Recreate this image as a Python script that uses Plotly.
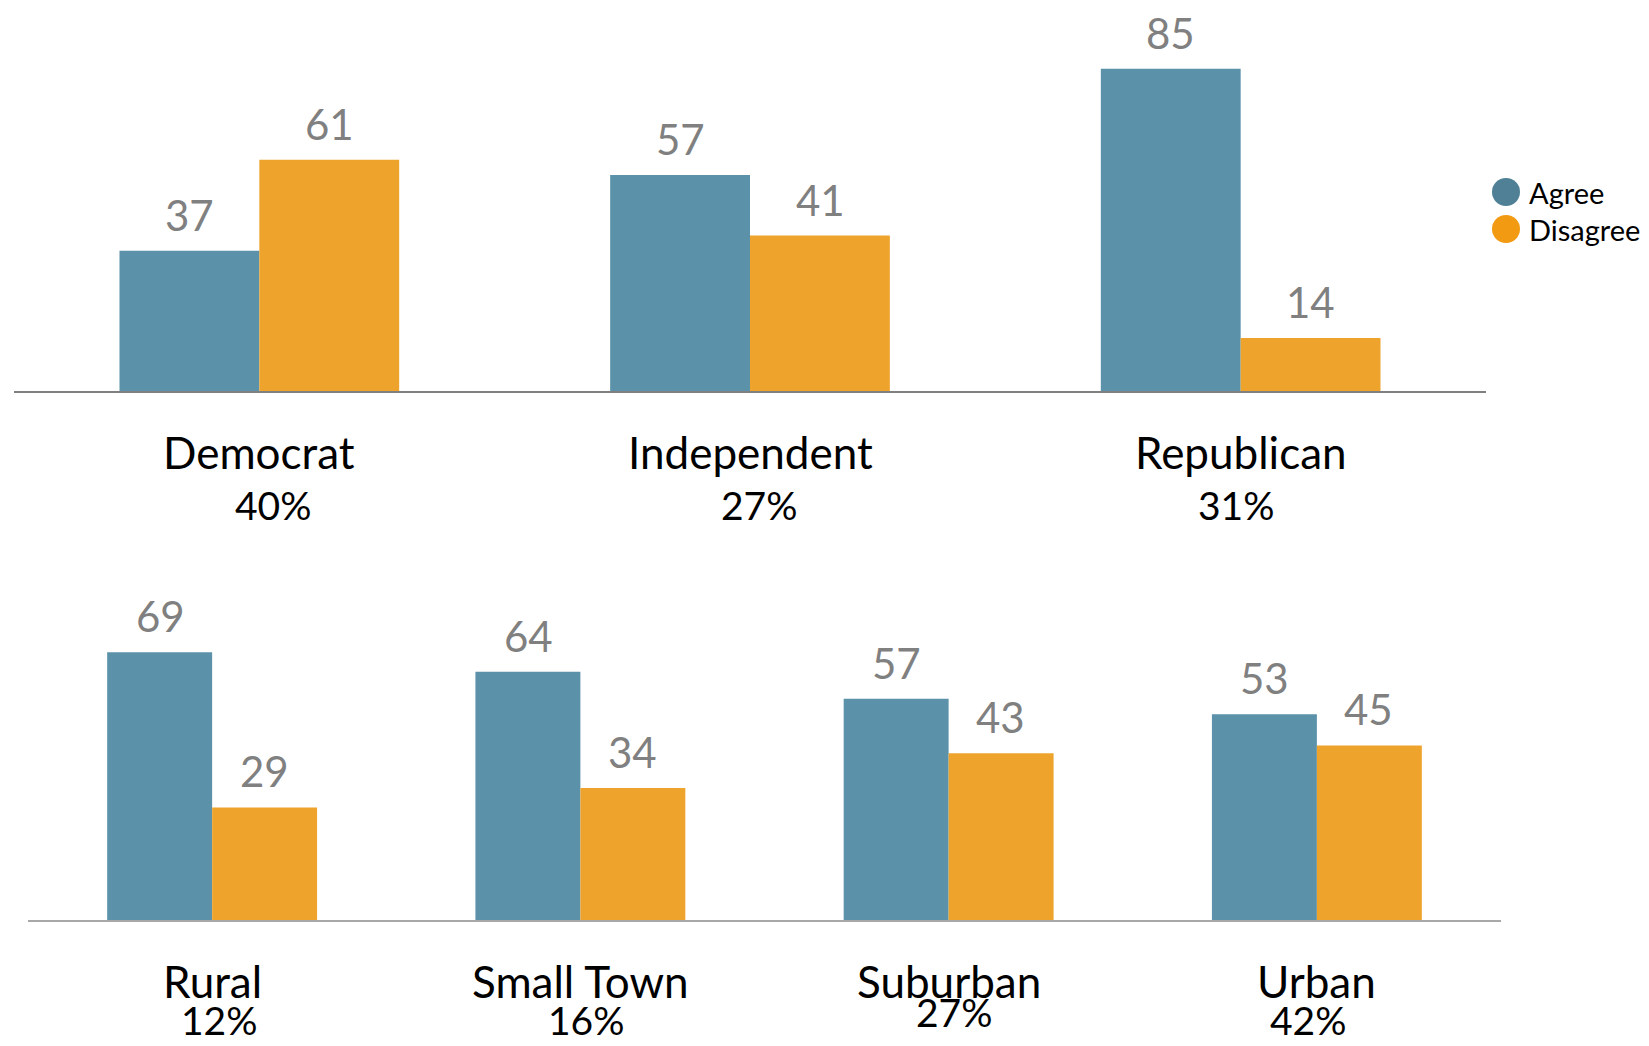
import plotly.graph_objects as go

# data
parties = ["Democrat", "Independent", "Republican"]
party_share = ["40%", "27%", "31%"]
party_agree = [37, 57, 85]
party_disagree = [61, 41, 14]

places = ["Rural", "Small Town", "Suburban", "Urban"]
place_share = ["12%", "16%", "27%", "42%"]
place_agree = [69, 64, 57, 53]
place_disagree = [29, 34, 43, 45]

series_names = ["Agree", "Disagree"]

# the page has an 8px body margin, so the figure is shrunk by that much
OFF = 8
W, H = 1649 - OFF, 1046 - OFF
AGREE = "#5b92aa"
DISAGREE = "#eea32c"
VAL_COLOR = "#808080"
FONT = "Lato, 'Open Sans', sans-serif"


def px_(x):
    # screen x pixel -> paper x
    return (x - OFF) / W


def py(y):
    # screen y pixel from top -> paper y
    return 1 - (y - OFF) / H


fig = go.Figure()
annotations = []

panels = [
    ("x", "y", parties, party_agree, party_disagree, 70),
    ("x2", "y2", places, place_agree, place_disagree, 52),
]
for xa, ya, cats, agree, disagree, half in panels:
    for k, (name, vals, col) in enumerate([
        (series_names[0], agree, AGREE),
        (series_names[1], disagree, DISAGREE),
    ]):
        fig.add_trace(
            go.Bar(
                x=cats,
                y=vals,
                name=name,
                xaxis=xa,
                yaxis=ya,
                marker=dict(color=col, line=dict(width=0)),
                showlegend=False,
                hovertemplate="%{x}: %{y}<extra>" + name + "</extra>",
            )
        )
        # value labels above each bar
        for c, v in zip(cats, vals):
            annotations.append(
                dict(
                    x=c, xref=xa, y=v, yref=ya,
                    text=str(v), showarrow=False, yanchor="middle",
                    xshift=-half if k == 0 else half, yshift=36,
                    font=dict(size=42, color=VAL_COLOR, family=FONT),
                )
            )

# category + share labels (share labels sit a little off-centre in the original)
label_rows = [
    ("x", parties, party_share, 452, [505, 505, 505], [14, 9, -4]),
    ("x2", places, place_share, 981, [1020, 1020, 1012, 1020], [7, 6, 6, -8]),
]
for xref, cats, shares, name_y, share_ys, share_dx in label_rows:
    for c, s, sy, dx in zip(cats, shares, share_ys, share_dx):
        annotations.append(
            dict(
                x=c, xref=xref, y=py(name_y), yref="paper",
                text=c, showarrow=False, yanchor="middle",
                font=dict(size=44, color="black", family=FONT),
            )
        )
        annotations.append(
            dict(
                x=c, xref=xref, y=py(sy), yref="paper",
                text=s, showarrow=False, yanchor="middle", xshift=dx,
                font=dict(size=39, color="black", family=FONT),
            )
        )

# legend drawn by hand to get the round swatches
shapes = []
for i, (name, col) in enumerate(zip(series_names, ["#4f8096", "#f29a12"])):
    cy = py(192 + i * 37)
    shapes.append(
        dict(
            type="circle", xref="paper", yref="paper",
            xsizemode="pixel", ysizemode="pixel",
            xanchor=px_(1506), yanchor=cy,
            x0=-14, x1=14, y0=-14, y1=14,
            fillcolor=col, line=dict(width=0),
        )
    )
    annotations.append(
        dict(
            x=px_(1527), xref="paper", y=cy, yref="paper",
            text=name, showarrow=False, xanchor="left", yanchor="middle",
            font=dict(size=29, color="black", family=FONT),
        )
    )

fig.update_layout(
    width=W,
    height=H,
    margin=dict(l=0, r=0, t=0, b=0),
    paper_bgcolor="white",
    plot_bgcolor="white",
    barmode="group",
    bargap=0.43,
    bargroupgap=0,
    showlegend=False,
    annotations=annotations,
    shapes=shapes,
    xaxis=dict(
        domain=[px_(14), px_(1486)], range=[-0.5, 2.5], anchor="y",
        showticklabels=False, showline=True, linecolor="#808080", linewidth=1.5,
        showgrid=False, zeroline=False, ticks="",
    ),
    yaxis=dict(
        domain=[py(391), 1], range=[0, (391 - OFF) / 3.79], anchor="x",
        visible=False, showgrid=False, zeroline=False,
    ),
    xaxis2=dict(
        domain=[px_(28), px_(1501)], range=[-0.5, 3.5], anchor="y2",
        showticklabels=False, showline=True, linecolor="#a8a8a8", linewidth=2,
        showgrid=False, zeroline=False, ticks="",
    ),
    yaxis2=dict(
        domain=[py(920), py(540)], range=[0, 380 / 3.88], anchor="x2",
        visible=False, showgrid=False, zeroline=False,
    ),
)

fig.write_html("out.html")
